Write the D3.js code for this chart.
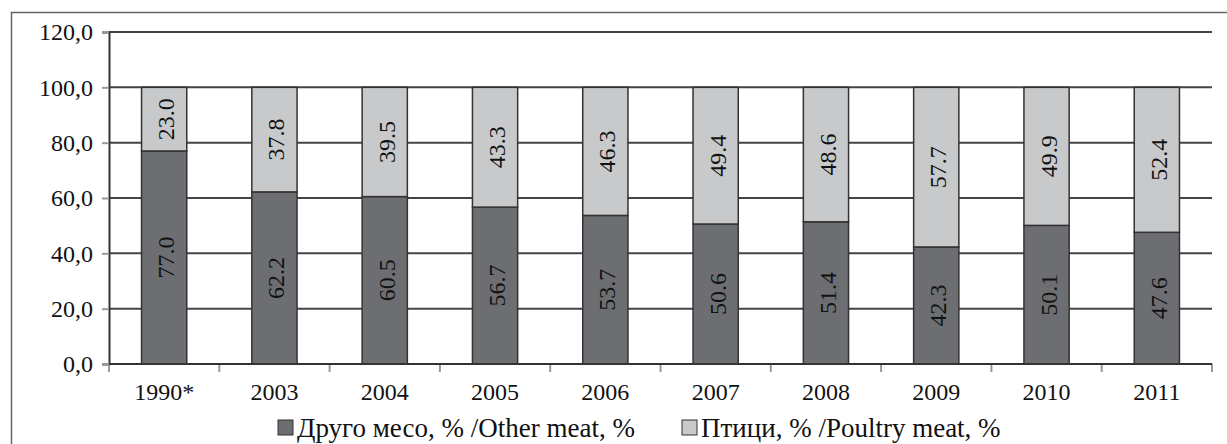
<!DOCTYPE html>
<html>
<head>
<meta charset="utf-8">
<script src="https://cdn.jsdelivr.net/npm/d3@7"></script>
<style>
  body { margin: 0; background: #fff; }
</style>
</head>
<body>
<div id="chart"></div>
<script>
// data
let years = ['1990*', '2003', '2004', '2005', '2006', '2007', '2008', '2009', '2010', '2011'];
let otherMeat = [77.0, 62.2, 60.5, 56.7, 53.7, 50.6, 51.4, 42.3, 50.1, 47.6];
let poultry = [23.0, 37.8, 39.5, 43.3, 46.3, 49.4, 48.6, 57.7, 49.9, 52.4];
let yTicks = [0, 20, 40, 60, 80, 100, 120];
let seriesNames = ['Друго месо, % /Other meat, %', 'Птици, % /Poultry meat, %'];

let width = 1227,
    height = 444;

let margin = { left: 109, right: 15, top: 32, bottom: 80 };

let colors = ['#6d6e71', '#c8c9cb'];

let svg = d3.select('#chart').append('svg')
    .attr('width', width)
    .attr('height', height)
    .attr('font-family', 'Liberation Serif');

// outer frame
svg.append('rect')
    .attr('x', 11.5)
    .attr('y', 12.5)
    .attr('width', width + 10)
    .attr('height', height + 10)
    .attr('fill', 'none')
    .attr('stroke', '#666')
    .attr('stroke-width', 1.5);

let x = d3.scaleBand()
    .domain(years)
    .range([margin.left, width - margin.right])
    .paddingInner(0.59)
    .paddingOuter(0.295);

let y = d3.scaleLinear()
    .domain([0, 120])
    .range([height - margin.bottom, margin.top]);

// gridlines
svg.append('g')
    .selectAll('line')
    .data(yTicks.filter(function(d) { return d > 0; }))
    .enter().append('line')
    .attr('x1', margin.left)
    .attr('x2', width - margin.right)
    .attr('y1', function(d) { return y(d); })
    .attr('y2', function(d) { return y(d); })
    .attr('stroke', '#444')
    .attr('stroke-width', 2);

// y axis
let yAxis = svg.append('g')
    .attr('transform', 'translate(' + margin.left + ',0)')
    .call(d3.axisLeft(y)
        .tickValues(yTicks)
        .tickSize(7)
        .tickPadding(9)
        .tickFormat(function(d) { return d3.format('.1f')(d).replace('.', ','); }));
yAxis.attr('font-family', null).attr('font-size', null);
yAxis.select('.domain').attr('stroke', '#333').attr('stroke-width', 2);
yAxis.selectAll('.tick line').attr('stroke', '#999').attr('stroke-width', 2);
yAxis.selectAll('.tick text')
    .style('font-size', '24px')
    .attr('fill', '#111');

// x axis ticks at category boundaries
let xAxis = svg.append('g')
    .attr('transform', 'translate(0,' + y(0) + ')');
let step = x.step();
xAxis.selectAll('.xt')
    .data(d3.range(years.length + 1))
    .enter().append('line')
    .attr('x1', function(i) { return margin.left + i * step; })
    .attr('x2', function(i) { return margin.left + i * step; })
    .attr('y1', 0)
    .attr('y2', 8)
    .attr('stroke', '#999')
    .attr('stroke-width', 2);
xAxis.selectAll('.xl')
    .data(years)
    .enter().append('text')
    .attr('x', function(d) { return x(d) + x.bandwidth() / 2; })
    .attr('y', 36)
    .attr('text-anchor', 'middle')
    .attr('fill', '#111')
    .style('font-size', '24px')
    .text(function(d) { return d; });

// stacked bars
let rows = years.map(function(yr, i) {
    return { year: yr, other: otherMeat[i], poultry: poultry[i] };
});
let stack = d3.stack().keys(['other', 'poultry'])(rows);

let layers = svg.append('g')
    .selectAll('g')
    .data(stack)
    .enter().append('g')
    .attr('fill', function(d, i) { return colors[i]; });

layers.selectAll('rect')
    .data(function(d) { return d; })
    .enter().append('rect')
    .attr('x', function(d) { return x(d.data.year); })
    .attr('y', function(d) { return y(d[1]); })
    .attr('width', x.bandwidth())
    .attr('height', function(d) { return y(d[0]) - y(d[1]); })
    .attr('stroke', '#333')
    .attr('stroke-width', 1.5);

layers.selectAll('text')
    .data(function(d) { return d; })
    .enter().append('text')
    .attr('transform', function(d) {
        let cx = x(d.data.year) + x.bandwidth() / 2;
        let cy = (y(d[0]) + y(d[1])) / 2;
        return 'translate(' + (cx + 10) + ',' + cy + ') rotate(-90)';
    })
    .attr('text-anchor', 'middle')
    .attr('fill', '#111')
    .style('font-size', '24px')
    .text(function(d) { return d3.format('.1f')(d[1] - d[0]); });

// x axis baseline on top of bars
svg.append('line')
    .attr('x1', margin.left)
    .attr('x2', width - margin.right)
    .attr('y1', y(0))
    .attr('y2', y(0))
    .attr('stroke', '#333')
    .attr('stroke-width', 2);

// legend
let legend = svg.append('g').attr('transform', 'translate(0,437)');
let legendX = [278, 682];
seriesNames.forEach(function(name, i) {
    legend.append('rect')
        .attr('x', legendX[i])
        .attr('y', -17)
        .attr('width', 15)
        .attr('height', 15)
        .attr('fill', colors[i])
        .attr('stroke', '#333')
        .attr('stroke-width', 1);
    legend.append('text')
        .attr('x', legendX[i] + 19)
        .attr('y', 0)
        .attr('fill', '#111')
        .style('font-size', '27px')
        .text(name);
});
</script>
</body>
</html>
